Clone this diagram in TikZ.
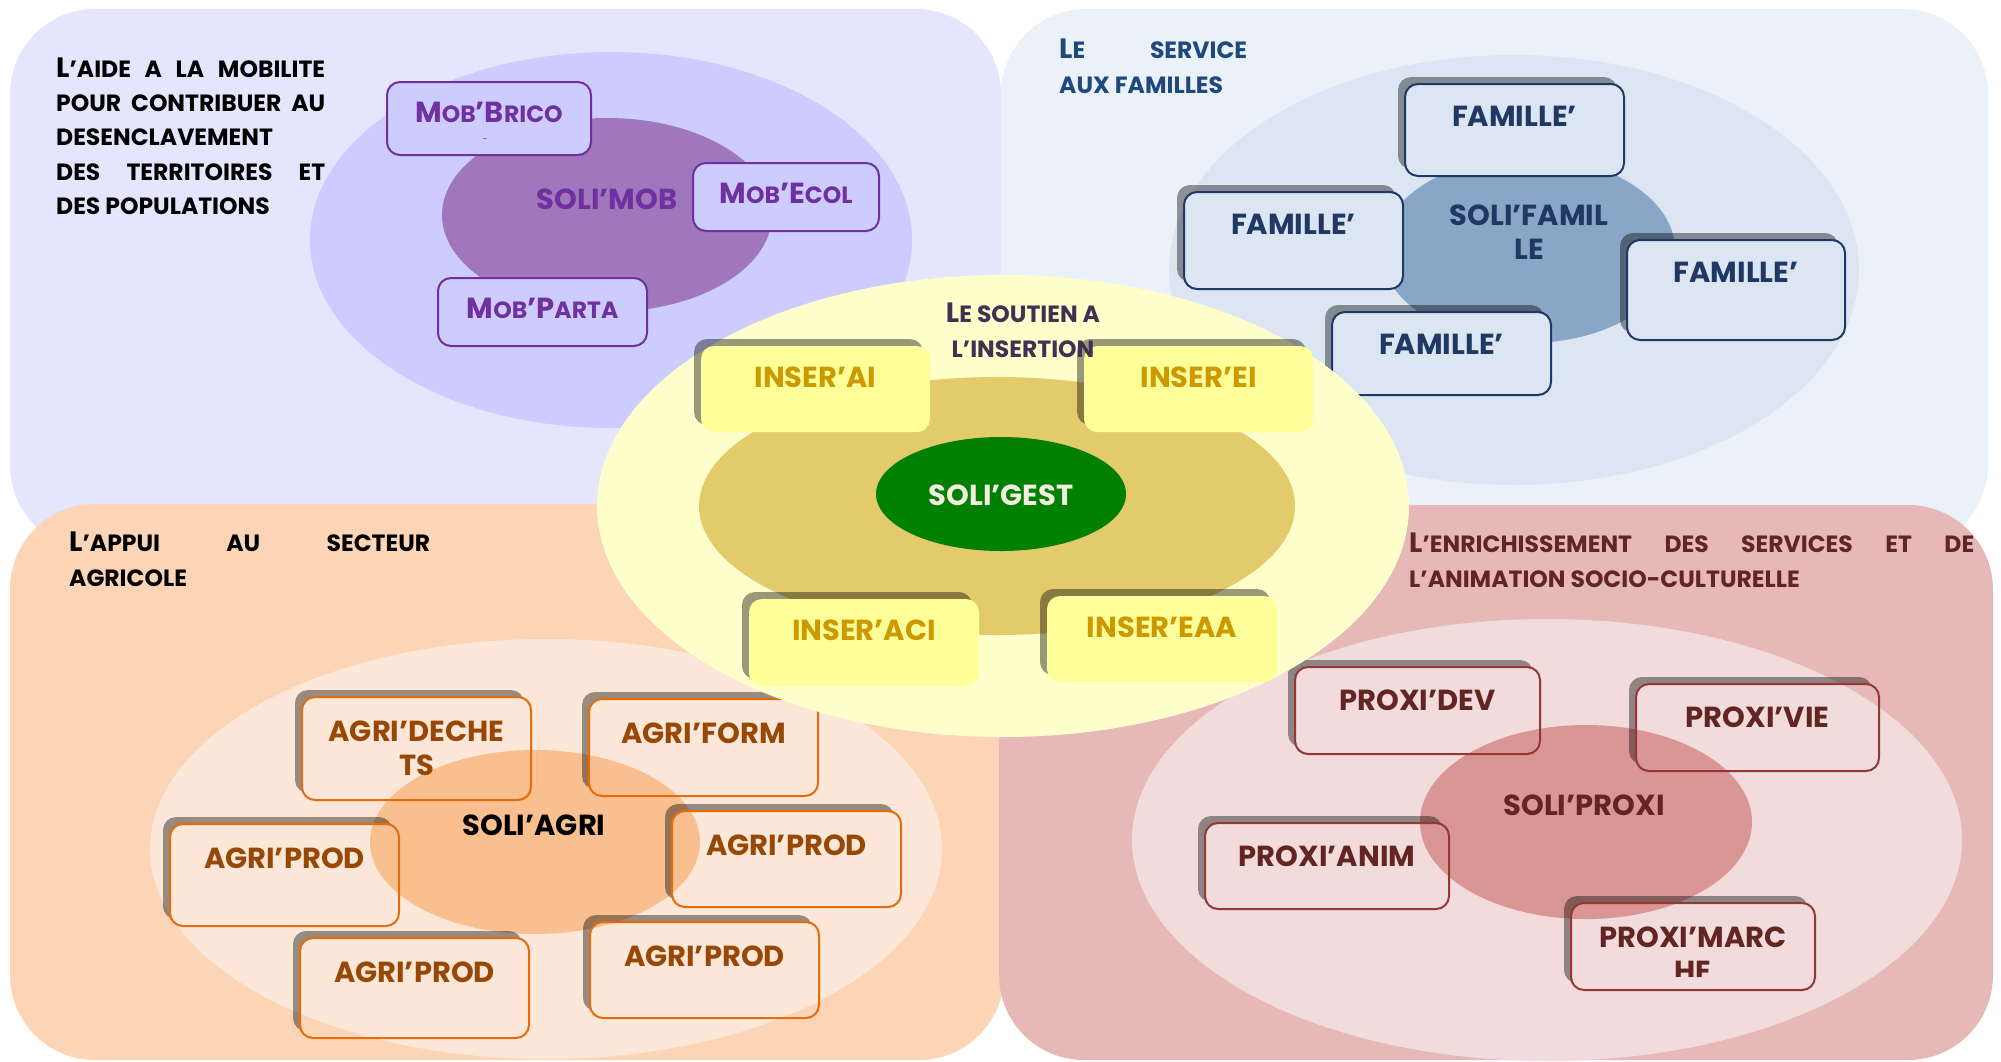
\documentclass[tikz,border=0pt]{standalone}
\usepackage{fontspec}
\setmainfont{Poppins}

\definecolor{mobfond}{HTML}{E5E5FE}
\definecolor{mobgrand}{HTML}{CCCCFF}
\definecolor{mobcentre}{HTML}{A077BD}
\definecolor{mobtexte}{HTML}{7030A0}
\definecolor{famfond}{HTML}{EBF1F9}
\definecolor{famgrand}{HTML}{DCE6F2}
\definecolor{famcentre}{HTML}{8AA6C6}
\definecolor{famtexte}{HTML}{1F3864}
\definecolor{famtitre}{HTML}{1F497D}
\definecolor{agrifond}{HTML}{FBD5B5}
\definecolor{agrigrand}{HTML}{FCE7D8}
\definecolor{agricentre}{HTML}{F9BF8F}
\definecolor{agritrait}{HTML}{E46C0A}
\definecolor{agritexte}{HTML}{984806}
\definecolor{proxifond}{HTML}{E6B8B7}
\definecolor{proxigrand}{HTML}{F1DBDB}
\definecolor{proxicentre}{HTML}{D99694}
\definecolor{proxitrait}{HTML}{953735}
\definecolor{proxitexte}{HTML}{632523}
\definecolor{insergrand}{HTML}{FFFFCC}
\definecolor{insercentre}{HTML}{E3CB6B}
\definecolor{inserboite}{HTML}{FFFF99}
\definecolor{insertexte}{HTML}{CC9900}
\definecolor{insertitre}{HTML}{3F3151}
\definecolor{gestvert}{HTML}{008000}
\definecolor{gesttexte}{HTML}{F2EEE0}

\newcommand{\smcap}[1]{{\fontsize{23.5}{34.25}\selectfont #1}}

\tikzset{
  quart/.style={rounded corners=85pt},
  ombre/.style={fill=black, fill opacity=0.4, rounded corners=13pt},
  boite/.style={rounded corners=13pt, line width=2pt},
  txt/.style={font=\bfseries\fontsize{29}{34}\selectfont, anchor=north, inner sep=0pt, align=center},
  titre/.style={font=\bfseries\fontsize{28}{34.25}\selectfont, anchor=north west, inner sep=0pt, align=left},
}

\begin{document}
\begin{tikzpicture}[x=1pt, y=-1pt]
  \useasboundingbox (0,0) rectangle (2001,1061);

  % les deux quarts du haut
  \fill[quart, mobfond] (10,9) rectangle (1001,550);
  \fill[quart, famfond] (1001,9) rectangle (1988,550);

  % mobilite
  \fill[mobgrand] (611,240) ellipse [x radius=301pt, y radius=188pt];
  \fill[mobcentre] (607,215) ellipse [x radius=165pt, y radius=97pt];
  \node[txt, text=mobtexte] (soli-mob) at (607,189) {SOLI’MOB};
  \foreach \x/\y/\w/\h/\t [count=\i] in {387/82/204/73/{M\smcap{OB}’B\smcap{RICO}}, 693/163/186/68/{M\smcap{OB}’E\smcap{COL}}, 438/278/209/68/{M\smcap{OB}’P\smcap{ARTA}}}{
    \draw[boite, draw=mobtexte, fill=mobgrand] (\x,\y) rectangle ++(\w,\h);
    \node[txt, text=mobtexte] (mob-\i) at (\x+\w/2,\y+20) {\t};
  }
  \node[font=\fontsize{9}{10}\selectfont, text=mobtexte, inner sep=0pt] (mob-tiret) at (485,141) {-};
  \node[titre] (titre-mob) at (56,57.5) {\makebox[269pt][s]{L\smcap{’AIDE A LA MOBILITE}}\\
    \makebox[269pt][s]{\smcap{POUR CONTRIBUER AU}}\\ \smcap{DESENCLAVEMENT}\\
    \makebox[269pt][s]{\smcap{DES TERRITOIRES ET}}\\ \smcap{DES POPULATIONS}};

  % familles
  \fill[famgrand] (1514,270) ellipse [x radius=345pt, y radius=215pt];
  \fill[famcentre] (1528,250) ellipse [x radius=147pt, y radius=93pt];
  \node[txt, text=famtexte] (soli-fam) at (1529,205) {SOLI’FAMIL\\LE};
  \foreach \x/\y/\w/\h [count=\i] in {1405/84/219/92, 1184/192/219/97, 1627/240/218/100, 1332/312/219/83}{
    \fill[ombre] (\x-7,\y-7) rectangle ++(\w,\h);
    \draw[boite, draw=famtexte, fill=famgrand] (\x,\y) rectangle ++(\w,\h);
    \node[txt, text=famtexte] (fam-\i) at (\x+\w/2,\y+22) {FAMILLE’};
  }
  \node[titre, text=famtitre] (titre-fam) at (1059,39) {\makebox[188pt][s]{L\smcap{E SERVICE}}\\
    \smcap{AUX FAMILLES}};

  % les deux quarts du bas
  \fill[quart, agrifond] (10,504) rectangle (1004,1060);
  \fill[quart, proxifond] (999,505) rectangle (1993,1060);

  % agriculture
  \fill[agrigrand] (546,849) ellipse [x radius=396pt, y radius=210pt];
  \fill[agricentre] (535,842) ellipse [x radius=165pt, y radius=92pt];
  \node[txt] (soli-agri) at (534,815) {SOLI’AGRI};
  \foreach \x/\y/\w/\h/\t [count=\i] in {302/697/229/103/{AGRI’DECHE\\TS}, 589/699/229/97/AGRI’FORM, 170/824/229/102/AGRI’PROD, 672/811/229/96/AGRI’PROD, 300/938/229/100/AGRI’PROD, 590/922/229/96/AGRI’PROD}{
    \begin{scope}[even odd rule]
      \clip[rounded corners=13pt] (0,0) -- (0,1061) -- (2001,1061) -- (2001,0) -- cycle (\x,\y) rectangle ++(\w,\h);
      \fill[ombre] (\x-7,\y-7) rectangle ++(\w,\h);
    \end{scope}
    \draw[boite, draw=agritrait] (\x,\y) rectangle ++(\w,\h);
    \node[txt, text=agritexte] (agri-\i) at (\x+\w/2,\y+24) {\t};
  }
  \node[titre] (titre-agri) at (69,532) {\makebox[361pt][s]{L\smcap{’APPUI AU SECTEUR}}\\
    \smcap{AGRICOLE}};

  % proximite
  \fill[proxigrand] (1547,840) ellipse [x radius=415pt, y radius=221pt];
  \fill[proxicentre] (1586,822) ellipse [x radius=166pt, y radius=97pt];
  \node[txt, text=proxitexte] (soli-proxi) at (1584,795) {SOLI’PROXI};
  \foreach \x/\y/\w/\h/\t [count=\i] in {1295/667/245/87/PROXI’DEV, 1636/684/243/87/PROXI’VIE, 1205/823/244/86/PROXI’ANIM, 1571/903/244/87/{}}{
    \begin{scope}[even odd rule]
      \clip[rounded corners=13pt] (0,0) -- (0,1061) -- (2001,1061) -- (2001,0) -- cycle (\x,\y) rectangle ++(\w,\h);
      \fill[ombre] (\x-7,\y-7) rectangle ++(\w,\h);
    \end{scope}
    \draw[boite, draw=proxitrait] (\x,\y) rectangle ++(\w,\h);
    \node[txt, text=proxitexte] (proxi-\i) at (\x+\w/2,\y+23) {\t};
  }
  \begin{scope}
    \clip (1571,903) rectangle (1815,976);
    \node[txt, text=proxitexte] (proxi-marche) at (1693,927) {PROXI’MARC\\HE};
  \end{scope}
  \node[titre, text=proxitexte] (titre-proxi) at (1409,533) {\makebox[565pt][s]{L\smcap{’ENRICHISSEMENT DES SERVICES ET DE}}\\
    \smcap{L’ANIMATION SOCIO-CULTURELLE}};

  % insertion, au centre
  \fill[insergrand] (1003,506) ellipse [x radius=406pt, y radius=231pt];
  \fill[insercentre] (997,506) ellipse [x radius=298pt, y radius=129pt];
  \fill[gestvert] (1001,494) ellipse [x radius=125pt, y radius=57pt];
  \node[txt, text=gesttexte] (soli-gest) at (1001,485) {SOLI’GEST};
  \foreach \x/\y/\w/\h/\t [count=\i] in {701/346/229/86/INSER’AI, 1084/346/229/86/INSER’EI, 749/599/230/87/INSER’ACI, 1047/596/230/86/INSER’EAA}{
    \fill[ombre] (\x-7,\y-7) rectangle ++(\w,\h);
    \fill[boite, inserboite] (\x,\y) rectangle ++(\w,\h);
    \node[txt, text=insertexte] (inser-\i) at (\x+\w/2,\y+21) {\t};
  }
  \node[titre, anchor=north, align=center, text=insertitre] (titre-inser) at (1023,303) {L\smcap{E SOUTIEN A}\\
    \smcap{L’INSERTION}};
\end{tikzpicture}
\end{document}
